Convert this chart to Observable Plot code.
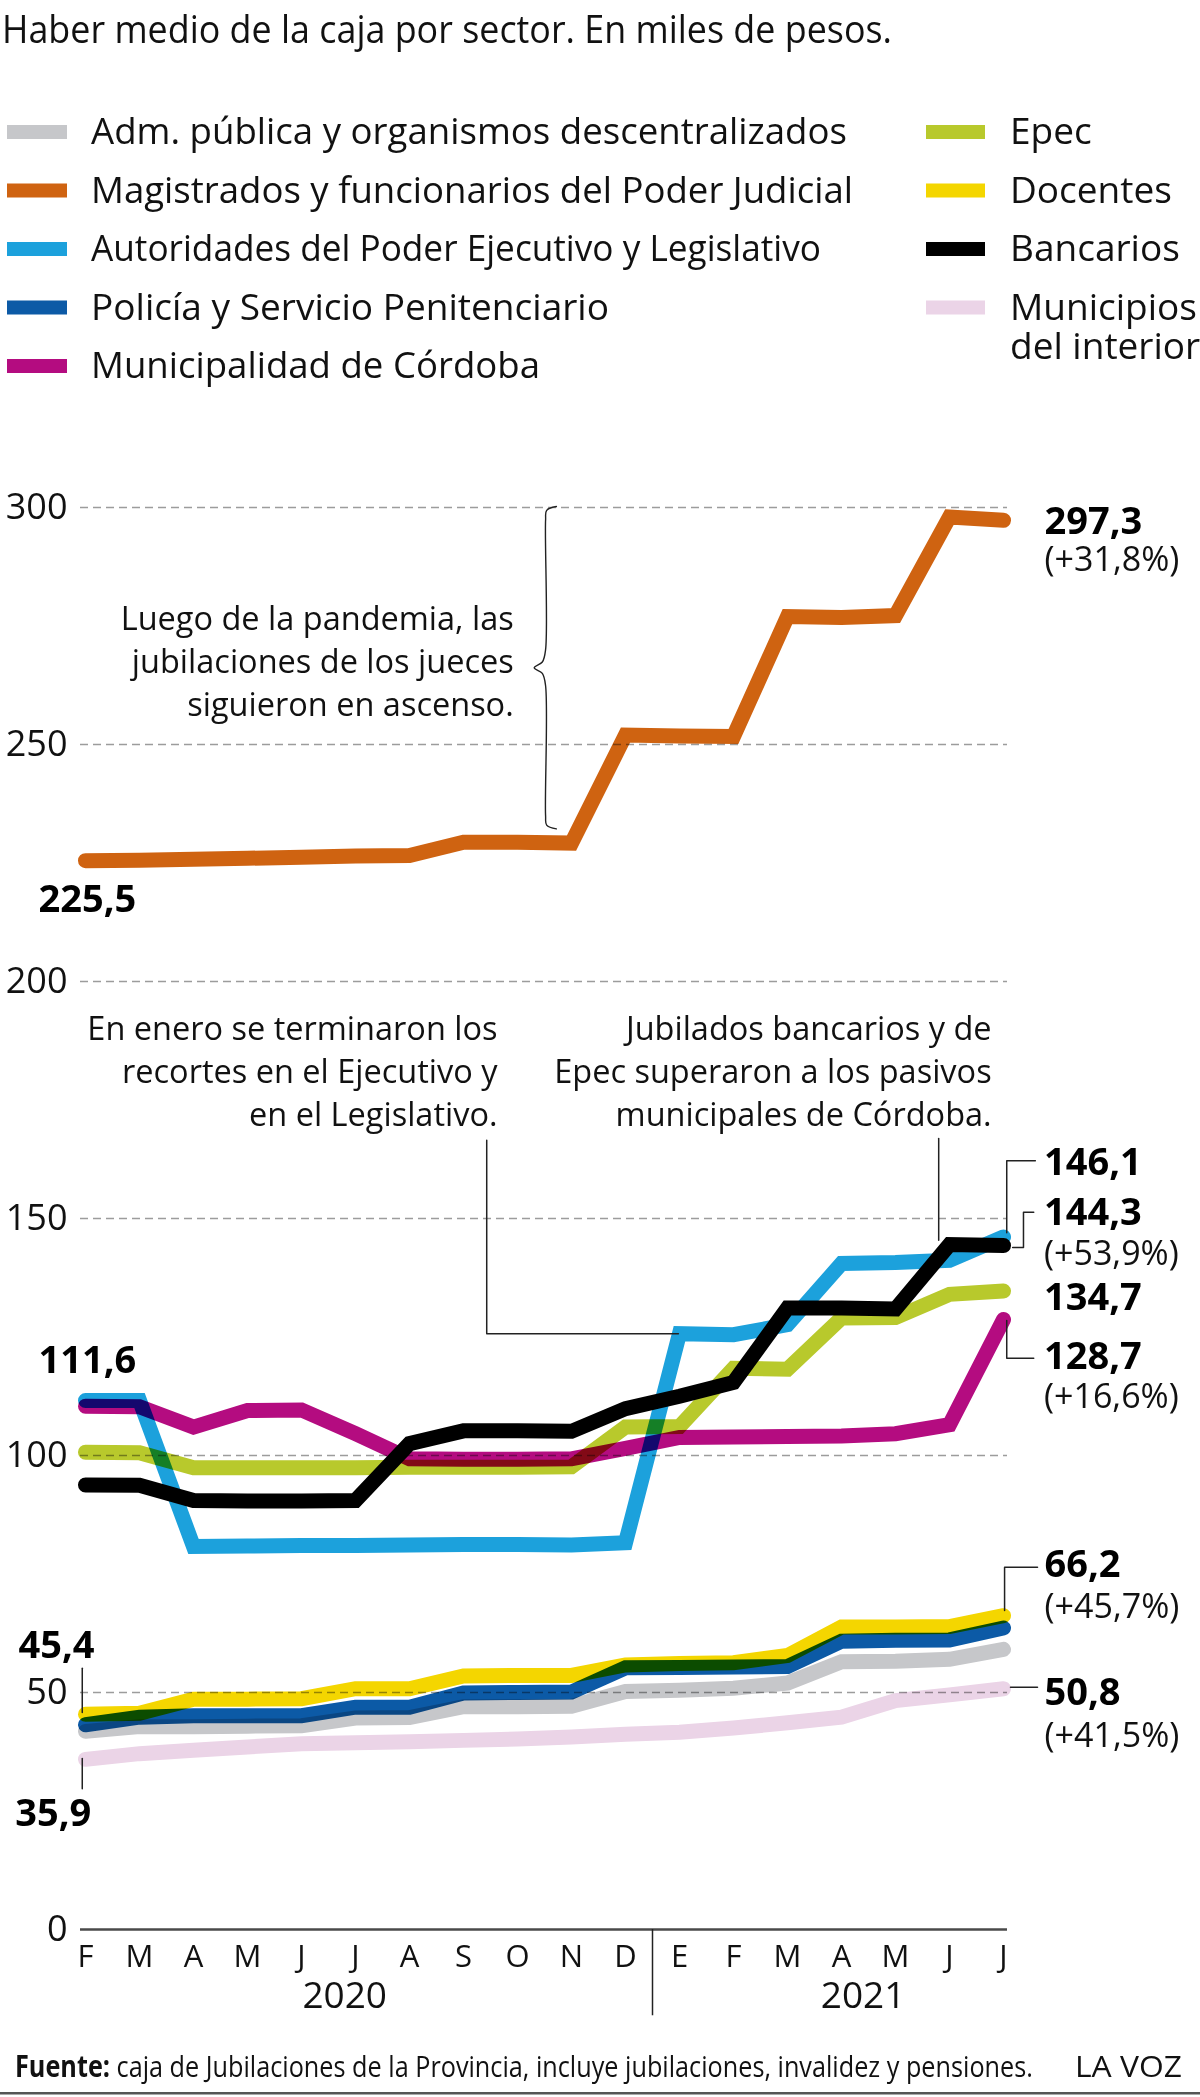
<!DOCTYPE html>
<html lang="es">
<head>
<meta charset="utf-8">
<script src="https://cdn.jsdelivr.net/npm/d3@7"></script>
<script src="https://cdn.jsdelivr.net/npm/@observablehq/plot@0.6"></script>
<style>
  html, body { margin: 0; padding: 0; background: #fff; }
  #page { position: relative; width: 1200px; height: 2097px; overflow: hidden; background: #fff;
          font-family: 'Open Sans', 'Noto Sans', sans-serif; color: #1a1a1a; }
  #page svg { position: absolute; left: 0; display: block; overflow: visible; }
  g[aria-label="line"].series { mix-blend-mode: multiply; }
</style>
</head>
<body>
<div id="page"></div>
<script>
// ---------- DATA ----------
const title = "Haber medio de la caja por sector. En miles de pesos.";
const months = ["F","M","A","M","J","J","A","S","O","N","D","E","F","M","A","M","J","J"]; // feb 2020 – jul 2021
const years = ["2020", "2021"];
const yTicks = [0, 50, 100, 150, 200, 250, 300];

const seriesNames = [
  "Adm. pública y organismos descentralizados",
  "Magistrados y funcionarios del Poder Judicial",
  "Autoridades del Poder Ejecutivo y Legislativo",
  "Policía y Servicio Penitenciario",
  "Municipalidad de Córdoba",
  "Epec",
  "Docentes",
  "Bancarios",
  "Municipios\ndel interior"
];

const adm           = [41.8, 42.8, 42.8, 42.9, 43.0, 44.6, 44.7, 47.0, 47.0, 47.1, 50.2, 50.5, 50.9, 52.0, 56.5, 56.6, 57.0, 59.1];
const magistrados   = [225.5, 225.6, 225.8, 226.0, 226.2, 226.5, 226.6, 229.4, 229.4, 229.2, 252.0, 251.8, 251.7, 277.0, 276.8, 277.2, 298.0, 297.3];
const autoridades   = [111.6, 111.6, 80.8, 80.9, 81.0, 81.0, 81.1, 81.2, 81.2, 81.1, 81.6, 125.7, 125.5, 127.6, 140.5, 140.7, 141.2, 146.1];
const policia       = [43.2, 44.8, 45.1, 45.1, 45.1, 46.9, 46.9, 49.9, 50.0, 50.1, 55.2, 55.3, 55.4, 55.5, 60.8, 61.0, 61.1, 63.6];
const municipalidad = [110.4, 110.3, 106.0, 109.5, 109.6, 104.6, 99.3, 99.2, 99.2, 99.3, 101.5, 103.8, 103.9, 104.0, 104.1, 104.6, 106.5, 128.7];
const epec          = [100.7, 100.6, 97.4, 97.4, 97.4, 97.4, 97.5, 97.5, 97.5, 97.6, 106.0, 106.1, 118.4, 118.2, 129.0, 129.1, 134.0, 134.7];
const docentes      = [45.4, 45.6, 48.6, 48.6, 48.7, 50.8, 50.8, 53.5, 53.6, 53.6, 55.8, 56.1, 56.3, 57.8, 63.8, 63.8, 63.9, 66.2];
const bancarios     = [93.8, 93.7, 90.5, 90.4, 90.4, 90.5, 102.5, 105.2, 105.2, 105.1, 109.9, 112.5, 115.4, 131.1, 131.1, 130.9, 144.5, 144.3];
const municipiosInt = [35.9, 37.1, 37.8, 38.5, 39.2, 39.4, 39.6, 39.9, 40.2, 40.6, 41.2, 41.6, 42.5, 43.6, 44.8, 48.3, 49.5, 50.8];

const seriesValues = [adm, magistrados, autoridades, policia, municipalidad, epec, docentes, bancarios, municipiosInt];

// value labels: [text, x (month index), y (value)]
const boldLabels = [
  ["297,3", 17.76, 294.4], ["225,5", -0.87, 214.6],
  ["146,1", 17.75, 159.1], ["144,3", 17.75, 148.7], ["134,7", 17.75, 130.6], ["128,7", 17.75, 118.3],
  ["111,6", -0.87, 117.3],
  ["66,2", 17.76, 74.3], ["50,8", 17.76, 47.3], ["45,4", -1.24, 57.2], ["35,9", -1.30, 21.9]
];
const pctLabels = [
  ["(+31,8%)", 17.76, 286.7], ["(+53,9%)", 17.75, 140.1], ["(+16,6%)", 17.75, 110.1],
  ["(+45,7%)", 17.76, 65.8], ["(+41,5%)", 17.76, 38.4]
];
const notes = [
  ["Luego de la pandemia, las\njubilaciones de los jueces\nsiguieron en ascenso.", 7.93, 256.1],
  ["En enero se terminaron los\nrecortes en el Ejecutivo y\nen el Legislativo.", 7.63, 169.6],
  ["Jubilados bancarios y de\nEpec superaron a los pasivos\nmunicipales de Córdoba.", 16.78, 169.6]
];
const footnoteLead = "Fuente:";
const footnote = " caja de Jubilaciones de la Provincia, incluye jubilaciones, invalidez y pensiones.";
const credit = "LA VOZ";

// annotation leader lines in (month index, value)
const brace = [[8.72,300.2],[8.54,299.4],[8.52,297.3],[8.52,270.0],[8.46,267.4],[8.31,266.2],[8.46,265.0],[8.52,262.4],[8.52,235.0],[8.54,233.0],[8.72,232.2]];
const leaders = [
  [[7.43,166.5],[7.43,125.7],[10.98,125.7]],
  [[15.80,166.9],[15.80,145.4]],
  [[17.06,147.0],[17.06,162.2],[17.59,162.2]],
  [[17.17,143.9],[17.37,143.9],[17.37,151.3],[17.56,151.3]],
  [[17.06,128.5],[17.06,120.5],[17.56,120.5]],
  [[17.02,67.3],[17.02,76.4],[17.63,76.4]],
  [[17.13,51.1],[17.63,51.1]],
  [[-0.06,55.1],[-0.06,45.8]],
  [[-0.06,36.1],[-0.06,29.7]]
];
const yearPos = [4.8, 14.4];

// ---------- STYLE ----------
const colors = ["#c6c7ca", "#cf6311", "#1ca1dc", "#0c5aa6", "#b40c80", "#b8c92c", "#f4d600", "#000000", "#ebd4e7"];
const drawOrder = [8, 0, 3, 6, 5, 4, 2, 7, 1];
const legendWidths = [756, 762, 730, 518, 449]; // left-column text widths in the reference
const font = "'Open Sans', 'Noto Sans', sans-serif";

const page = d3.select("#page");

// ---------- HEADER (title + legend) ----------
const header = page.append("svg").attr("width", 1200).attr("height", 440).style("top", "0px")
  .attr("font-family", font).attr("fill", "#111");
header.append("text").attr("x", 2).attr("y", 43).attr("font-size", 38)
  .attr("textLength", 890).attr("lengthAdjust", "spacingAndGlyphs").text(title);

const legendLeft = [0, 1, 2, 3, 4];
const legendRight = [5, 6, 7, 8];
const rowY = [132, 190.5, 249, 307.5, 366];
legendLeft.forEach((s, k) => {
  header.append("rect").attr("x", 7).attr("y", rowY[k] - 7).attr("width", 60).attr("height", 14).attr("fill", colors[s]);
  header.append("text").attr("x", 91).attr("y", rowY[k] + 12).attr("font-size", 37)
    .attr("textLength", legendWidths[k]).attr("lengthAdjust", "spacingAndGlyphs").text(seriesNames[s]);
});
legendRight.forEach((s, k) => {
  header.append("rect").attr("x", 926).attr("y", rowY[k] - 7).attr("width", 59).attr("height", 14).attr("fill", colors[s]);
  const t = header.append("text").attr("x", 1010).attr("y", rowY[k] + 12).attr("font-size", 37);
  seriesNames[s].split("\n").forEach((line, j) => {
    t.append("tspan").attr("x", 1010).attr("dy", j === 0 ? 0 : 39).text(line);
  });
});

// ---------- CHART ----------
const rows = seriesNames.flatMap((name, s) => seriesValues[s].map((v, i) => ({name, s, i, v})));

const lineMarks = drawOrder.map(s =>
  Plot.line(rows.filter(d => d.s === s), {
    x: "i", y: "v", stroke: colors[s], strokeWidth: 15,
    strokeLinecap: "round", strokeLinejoin: "miter", strokeMiterlimit: 3,
    mixBlendMode: "multiply", className: "series"
  })
);

const plot = Plot.plot({
  width: 1200, height: 1600,
  marginTop: 57, marginBottom: 121, marginLeft: 85, marginRight: 197,
  x: {domain: [0, 17], axis: null},
  y: {domain: [0, 300]},
  style: {fontFamily: font, fontSize: "36px", color: "#111", background: "white", overflow: "visible"},
  marks: [
    Plot.ruleY(yTicks.filter(d => d > 0), {stroke: "#9c9c9c", strokeWidth: 1.6, strokeDasharray: "8,5", insetLeft: -5, insetRight: -4}),
    Plot.ruleY([0], {stroke: "#4a4a4a", strokeWidth: 2.5, insetLeft: -5, insetRight: -4}),
    Plot.ruleX([10.5], {y1: 0, y2: -18.2, stroke: "#222", strokeWidth: 1.5}),
    Plot.axisY({ticks: yTicks, tickSize: 0, tickPadding: 18, fontSize: 36, label: null}),
    Plot.text(months, {x: (d, i) => i, y: 0, dy: 37, text: d => d, lineAnchor: "bottom", fontSize: 31, fill: "#111"}),
    Plot.text(years, {x: (d, i) => yearPos[i], y: 0, dy: 78, text: d => d, lineAnchor: "bottom", fontSize: 37, fill: "#111"}),
    ...lineMarks,
    Plot.line(brace, {stroke: "#222", strokeWidth: 1.4, curve: "catmull-rom"}),
    ...leaders.map(l => Plot.line(l, {stroke: "#222", strokeWidth: 1.5})),
    Plot.text(notes, {x: d => d[1], y: d => d[2], text: d => d[0], textAnchor: "end", lineAnchor: "bottom",
      lineHeight: 1.323, fontSize: 32.5, fill: "#111"}),
    Plot.text(boldLabels, {x: d => d[1], y: d => d[2], text: d => d[0], textAnchor: "start", lineAnchor: "bottom",
      fontSize: 38, fontWeight: 700, fill: "#000"}),
    Plot.text(pctLabels, {x: d => d[1], y: d => d[2], text: d => d[0], textAnchor: "start", lineAnchor: "bottom",
      fontSize: 34, fill: "#111"})
  ]
});
plot.style.top = "450px";
document.getElementById("page").appendChild(plot);

// ---------- FOOTER ----------
const footer = page.append("svg").attr("width", 1200).attr("height", 62).style("top", "2035px")
  .attr("font-family", font).attr("fill", "#111");
// condensed look: measure natural width, then squeeze horizontally with a transform
function squeezed(x, y, width, build) {
  const g = footer.append("g");
  const t = g.append("text").attr("x", 0).attr("y", 0).attr("font-size", 30);
  build(t);
  const natural = t.node().getComputedTextLength() || width;
  g.attr("transform", `translate(${x},${y}) scale(${width / natural},1)`);
}
squeezed(15, 42, 1018, t => {
  t.append("tspan").attr("font-weight", 700).text(footnoteLead);
  t.append("tspan").text(footnote);
});
squeezed(1075, 42, 107, t => t.text(credit));
footer.append("rect").attr("x", 0).attr("y", 57).attr("width", 1200).attr("height", 2.5).attr("fill", "#555");
</script>
</body>
</html>
